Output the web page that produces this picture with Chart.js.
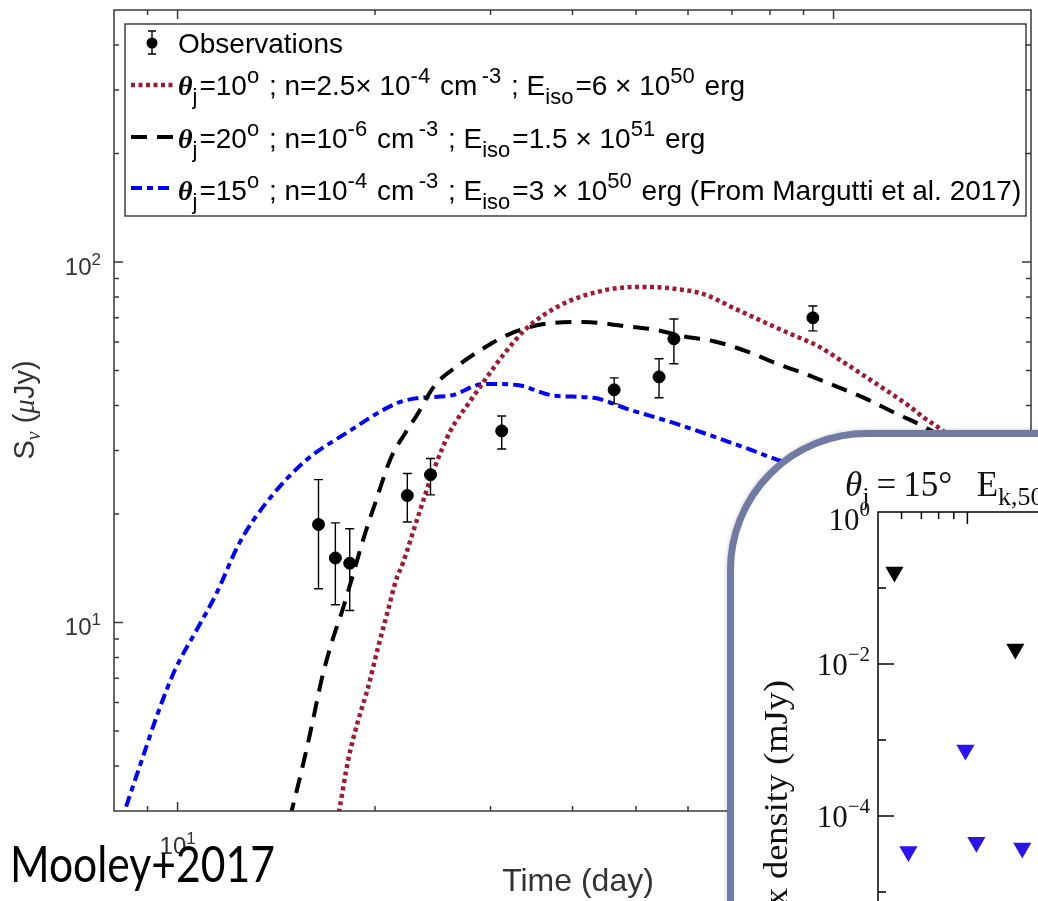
<!DOCTYPE html>
<html>
<head>
<meta charset="utf-8">
<script src="https://cdn.jsdelivr.net/npm/chart.js@4.4.0/dist/chart.umd.min.js"></script>
<style>
  html, body { margin: 0; padding: 0; background: #fff; overflow: hidden; width: 1038px; height: 901px; }
  #wrap { position: relative; width: 1038px; height: 901px; }
  #main { position: absolute; left: 0; top: 0; display: block; }
  #insetBox {
    position: absolute; left: 727px; top: 430px; width: 480px; height: 640px;
    border: 7px solid #707aa2; border-radius: 140px; background: #fff; overflow: hidden;
    box-shadow: 0 0 4px rgba(0, 0, 0, 0.25);
  }
  #inset { display: block; }
</style>
</head>
<body>
<div id="wrap">
  <canvas id="main" width="1038" height="901"></canvas>
  <div id="insetBox"><canvas id="inset" width="480" height="640"></canvas></div>
</div>
<script>
// data ===================================================================//

// observations (day, flux in microJy, error bar ends)
const obsDay  = [16.4, 17.4, 18.3, 22.4, 24.3, 31.2, 46.3, 54.2, 57.1, 93.0];
const obsFlux = [18.7, 15.1, 14.6, 22.5, 25.7, 34.0, 44.2, 48.0, 61.2, 70.0];
const obsLow  = [12.4, 11.2, 10.8, 19.0, 22.6, 30.3, 40.4, 42.0, 52.2, 64.4];
const obsHigh = [24.9, 18.9, 18.2, 25.9, 28.5, 37.4, 47.7, 53.9, 69.5, 75.5];

// theta_j = 10 deg model (red dotted)
const redDay  = [17.3, 17.64, 18.2, 18.85, 19.52, 20.21, 20.93, 21.52, 22.05, 23.23, 24.65, 26.06, 27.95, 29.35, 31.46, 33.73, 36.15, 39.59, 43.05, 47.1, 52.3, 57.5, 63.2, 70.9, 79.5, 87.3, 94.6, 102.8, 112.6, 123.7, 130.3, 137.3, 146.2, 160.6];
const redFlux = [2.46, 3.01, 4.15, 5.35, 6.61, 8.52, 10.8, 13.07, 14.6, 19.54, 26.88, 34.0, 41.2, 46.8, 55.6, 64.4, 71.3, 78.0, 82.1, 84.7, 85.3, 84.2, 81.6, 74.1, 67.3, 62.4, 58.5, 53.2, 47.7, 42.6, 39.9, 37.0, 34.2, 29.0];

// theta_j = 20 deg model (black dashed)
const blackDay  = [14.5, 14.93, 15.46, 16.0, 16.57, 17.16, 17.77, 18.4, 19.31, 20.0, 21.15, 22.21, 23.23, 24.65, 26.71, 29.35, 32.13, 36.15, 41.57, 47.78, 53.6, 59.5, 65.4, 73.4, 81.4, 90.4, 100.3, 112.2, 123.7, 138.3, 157.8];
const blackFlux = [2.44, 3.01, 3.89, 5.12, 6.91, 8.75, 10.59, 13.07, 17.64, 21.37, 28.65, 33.4, 37.9, 45.4, 51.5, 57.8, 63.2, 67.3, 68.2, 66.5, 64.8, 62.0, 60.4, 56.7, 52.5, 48.96, 45.4, 41.7, 38.2, 34.7, 29.96];

// theta_j = 15 deg model, Margutti et al. (blue dash-dot)
const blueDay  = [8.1, 8.31, 8.85, 9.33, 9.9, 10.68, 11.46, 12.41, 13.63, 15.67, 18.02, 21.68, 23.48, 26.06, 29.35, 32.9, 37.45, 43.05, 48.3, 57.5, 75.4, 80.6, 104];
const blueFlux = [2.62, 3.01, 4.23, 5.6, 7.36, 9.5, 12.03, 16.55, 21.4, 28.1, 33.4, 40.7, 42.0, 42.6, 45.9, 45.6, 42.6, 42.0, 39.2, 35.6, 29.96, 28.6, 24.7];

// axis ticks
const xMajor = [10, 100];
const xMinor = [9, 20, 30, 40, 50, 60, 70, 80, 90];
const yMajor = [10, 100];
const yMinor = [4, 5, 6, 7, 8, 9, 20, 30, 40, 50, 60, 70, 80, 90, 200, 300, 400];
const xTickLabels = [[10, '10', '1']];
const yTickLabels = [[10, '10', '1'], [100, '10', '2']];

// inset: upper limits (triangles)
const insetBlackT = [0.568, 1.45];
const insetBlackF = [0.1625, 0.0157];
const insetBlueT  = [0.985, 0.633, 1.072, 1.53];
const insetBlueF  = [7.4e-4, 3.4e-5, 4.5e-5, 3.8e-5];
const insetYMajor = [1, 1e-2, 1e-4, 1e-6];
const insetYMinor = [1e-1, 1e-3, 1e-5];
const insetXMajor = [1];
const insetXMinor = [0.6, 0.7, 0.8, 0.9, 2, 3, 4];
const insetYLabels = [[1, '10', '0'], [1e-2, '10', '\u22122'], [1e-4, '10', '\u22124'], [1e-6, '10', '\u22126']];

// legend rows: [text, kind]
const legendRows = [
    [['\u03b8', 'th'], ['j', 'sub'], ['=10', ''], ['o', 'sup'], [' ; n=2.5\u00d7 10', ''], ['-4', 'sup'], [' cm', ''], ['\u2009-3', 'sup'], [' ; E', ''], ['iso', 'sub'], ['=6 \u00d7 10', ''], ['50', 'sup'], [' erg', '']],
    [['\u03b8', 'th'], ['j', 'sub'], ['=20', ''], ['o', 'sup'], [' ; n=10', ''], ['-6', 'sup'], [' cm', ''], ['\u2009-3', 'sup'], [' ; E', ''], ['iso', 'sub'], ['=1.5 \u00d7 10', ''], ['51', 'sup'], [' erg', '']],
    [['\u03b8', 'th'], ['j', 'sub'], ['=15', ''], ['o', 'sup'], [' ; n=10', ''], ['-4', 'sup'], [' cm', ''], ['\u2009-3', 'sup'], [' ; E', ''], ['iso', 'sub'], ['=3 \u00d7 10', ''], ['50', 'sup'], [' erg (From Margutti et al. 2017)', '']]
];

// helpers ================================================================//

const pts = (xs, ys) => xs.map((v, i) => ({ x: v, y: ys[i] }));

function partFont(k, base, small, fam) {
    if (k === 'th') return 'italic bold ' + base + 'px "Liberation Serif"';
    if (k === 'it') return 'italic ' + base + 'px ' + fam;
    if (k === 'sup' || k === 'sub') return small + 'px ' + fam;
    return base + 'px ' + fam;
}

function richWidth(ctx, parts, base, small, fam, gap) {
    let w = 0;
    for (const [t, k] of parts) {
        ctx.font = partFont(k, base, small, fam);
        w += ctx.measureText(t).width;
        if (gap && (k === 'sup' || k === 'sub')) w += gap;
    }
    return w;
}

function drawRich(ctx, x, y, parts, base, small, fam, supUp, subDown, gap) {
    for (const [t, k] of parts) {
        ctx.font = partFont(k, base, small, fam);
        let dy = 0;
        if (k === 'sup') dy = -supUp;
        if (k === 'sub') dy = subDown;
        ctx.fillText(t, x, y + dy);
        x += ctx.measureText(t).width;
        if (gap && (k === 'sup' || k === 'sub')) x += gap;
    }
    return x;
}

const SANS = '"Liberation Sans", Arial, sans-serif';
const SERIF = '"Liberation Serif", "Times New Roman", serif';

// main chart decorations =================================================//

const mainDecor = {
    id: 'mainDecor',
    afterDatasetsDraw(chart) {
        const { ctx, chartArea: a, scales: { x, y } } = chart;
        ctx.save();

        // error bars
        ctx.strokeStyle = '#000';
        ctx.lineWidth = 1.4;
        obsDay.forEach((d, i) => {
            const px = x.getPixelForValue(d);
            const lo = y.getPixelForValue(obsLow[i]);
            const hi = y.getPixelForValue(obsHigh[i]);
            ctx.beginPath();
            ctx.moveTo(px, lo); ctx.lineTo(px, hi);
            ctx.moveTo(px - 4.5, lo); ctx.lineTo(px + 4.5, lo);
            ctx.moveTo(px - 4.5, hi); ctx.lineTo(px + 4.5, hi);
            ctx.stroke();
        });

        // frame + inward ticks
        ctx.strokeStyle = '#3a3a3a';
        ctx.lineWidth = 1.5;
        ctx.strokeRect(a.left, a.top, a.right - a.left, a.bottom - a.top);
        ctx.beginPath();
        const xt = (v, len) => {
            const p = x.getPixelForValue(v);
            ctx.moveTo(p, a.bottom); ctx.lineTo(p, a.bottom - len);
            ctx.moveTo(p, a.top); ctx.lineTo(p, a.top + len);
        };
        const yt = (v, len) => {
            const p = y.getPixelForValue(v);
            ctx.moveTo(a.left, p); ctx.lineTo(a.left + len, p);
            ctx.moveTo(a.right, p); ctx.lineTo(a.right - len, p);
        };
        xMajor.forEach(v => xt(v, 9));
        xMinor.forEach(v => xt(v, 5));
        yMajor.forEach(v => yt(v, 9));
        yMinor.forEach(v => yt(v, 5));
        ctx.stroke();

        // tick labels
        ctx.fillStyle = '#333';
        ctx.textBaseline = 'alphabetic';
        ctx.textAlign = 'left';
        yTickLabels.forEach(([v, b, e]) => {
            const p = y.getPixelForValue(v);
            const parts = [[b, ''], [e, 'sup']];
            const w = richWidth(ctx, parts, 24, 17, SANS);
            drawRich(ctx, 101 - w, p + 13, parts, 24, 17, SANS, 10, 0);
        });
        xTickLabels.forEach(([v, b, e]) => {
            const p = x.getPixelForValue(v);
            const parts = [[b, ''], [e, 'sup']];
            drawRich(ctx, p - 18, a.bottom + 43, parts, 24, 17, SANS, 10, 0);
        });

        // axis titles
        ctx.font = '32px ' + SANS;
        ctx.textAlign = 'center';
        ctx.fillText('Time (day)', 578, 891);

        ctx.save();
        ctx.translate(34, 410);
        ctx.rotate(-Math.PI / 2);
        ctx.textAlign = 'left';
        const yTitle = [['S', ''], ['\u03bd', 'itsub'], [' (', ''], ['\u03bc', 'it'], ['Jy)', '']];
        const tf = k => k === 'itsub' ? 'italic 20px ' + SERIF : (k === 'it' ? 'italic 29px ' + SERIF : '29px ' + SANS);
        let wT = 0;
        yTitle.forEach(([t, k]) => { ctx.font = tf(k); wT += ctx.measureText(t).width; });
        let cx = -wT / 2;
        yTitle.forEach(([t, k]) => {
            ctx.font = tf(k);
            ctx.fillText(t, cx, k === 'itsub' ? 6 : 0);
            cx += ctx.measureText(t).width;
        });
        ctx.restore();

        // legend box
        ctx.fillStyle = '#fff';
        ctx.fillRect(125, 24, 901, 192);
        ctx.strokeStyle = '#222';
        ctx.lineWidth = 1.3;
        ctx.strokeRect(125, 24, 901, 192);

        // legend: observations marker
        ctx.strokeStyle = '#000';
        ctx.lineWidth = 1.4;
        ctx.beginPath();
        ctx.moveTo(152, 31); ctx.lineTo(152, 54);
        ctx.moveTo(148, 31); ctx.lineTo(156, 31);
        ctx.moveTo(148, 54); ctx.lineTo(156, 54);
        ctx.stroke();
        ctx.fillStyle = '#000';
        ctx.beginPath();
        ctx.arc(152, 43, 5.5, 0, Math.PI * 2);
        ctx.fill();
        ctx.textAlign = 'left';
        ctx.font = '28px ' + SANS;
        ctx.fillText('Observations', 178, 53);

        // legend: line samples
        const ds = chart.data.datasets;
        const sampleY = [85, 137, 188];
        const rowBase = [95, 148, 200];
        [1, 2, 3].forEach((di, r) => {
            ctx.save();
            ctx.strokeStyle = ds[di].borderColor;
            ctx.lineWidth = ds[di].borderWidth;
            ctx.setLineDash(ds[di].borderDash);
            ctx.beginPath();
            ctx.moveTo(131, sampleY[r]); ctx.lineTo(173, sampleY[r]);
            ctx.stroke();
            ctx.restore();
            ctx.fillStyle = '#000';
            drawRich(ctx, 178, rowBase[r], legendRows[r], 28, 22, SANS, 12, 9, 2);
        });

        // annotation
        ctx.fillStyle = '#000';
        ctx.font = '50px Lato, "Open Sans", sans-serif';
        const mw = ctx.measureText('Mooley+2017').width;
        ctx.save();
        ctx.translate(10, 882);
        ctx.scale(265 / mw, 1);
        ctx.fillText('Mooley+2017', 0, 0);
        ctx.restore();

        ctx.restore();
    }
};

// main chart =============================================================//

const mainCanvas = document.getElementById('main');

const mainConfig = {
    type: 'scatter',
    data: {
        datasets: [{
            label: 'Observations',
            data: pts(obsDay, obsFlux),
            pointRadius: 6,
            pointBackgroundColor: '#000',
            pointBorderColor: '#000',
            showLine: false,
            order: 0
        }, {
            label: 'theta_j=10',
            data: pts(redDay, redFlux),
            showLine: true,
            borderColor: '#9e1b32',
            borderWidth: 4.5,
            borderDash: [4, 3.5],
            borderCapStyle: 'butt',
            pointRadius: 0,
            cubicInterpolationMode: 'monotone',
            clip: 0,
            order: 1
        }, {
            label: 'theta_j=20',
            data: pts(blackDay, blackFlux),
            showLine: true,
            borderColor: '#000',
            borderWidth: 4,
            borderDash: [16, 10],
            borderCapStyle: 'butt',
            pointRadius: 0,
            cubicInterpolationMode: 'monotone',
            clip: 0,
            order: 2
        }, {
            label: 'theta_j=15',
            data: pts(blueDay, blueFlux),
            showLine: true,
            borderColor: '#0000ff',
            borderWidth: 4,
            borderDash: [11, 5, 6, 5],
            borderCapStyle: 'butt',
            pointRadius: 0,
            cubicInterpolationMode: 'monotone',
            clip: 0,
            order: 3
        }]
    },
    options: {
        responsive: false,
        animation: false,
        devicePixelRatio: 1,
        layout: { padding: { left: 114, top: 10, right: 1, bottom: 90 } },
        plugins: { legend: { display: false }, tooltip: { enabled: false } },
        scales: {
            x: { type: 'logarithmic', min: 8, max: 200, display: false },
            y: { type: 'logarithmic', min: 3, max: 500, display: false }
        }
    },
    plugins: [mainDecor]
};

const mainChart = new Chart(mainCanvas, mainConfig);

// inset chart ============================================================//

const insetDecor = {
    id: 'insetDecor',
    afterDatasetsDraw(chart) {
        const { ctx, chartArea: a, scales: { x, y } } = chart;
        ctx.save();
        ctx.strokeStyle = '#000';
        ctx.lineWidth = 1.5;
        ctx.beginPath();
        ctx.moveTo(a.left, a.bottom); ctx.lineTo(a.left, a.top); ctx.lineTo(a.right, a.top);
        insetYMajor.forEach(v => { const p = y.getPixelForValue(v); ctx.moveTo(a.left, p); ctx.lineTo(a.left + 16, p); });
        insetYMinor.forEach(v => { const p = y.getPixelForValue(v); ctx.moveTo(a.left, p); ctx.lineTo(a.left + 8, p); });
        insetXMajor.forEach(v => { const p = x.getPixelForValue(v); ctx.moveTo(p, a.top); ctx.lineTo(p, a.top + 12); });
        insetXMinor.forEach(v => { const p = x.getPixelForValue(v); ctx.moveTo(p, a.top); ctx.lineTo(p, a.top + 7); });
        ctx.stroke();

        ctx.fillStyle = '#111';
        ctx.textAlign = 'left';
        insetYLabels.forEach(([v, b, e], i) => {
            const p = y.getPixelForValue(v);
            const parts = [[b, ''], [e, 'sup']];
            const w = richWidth(ctx, parts, 31, 21, SERIF);
            drawRich(ctx, 136 - w, p + (i === 0 ? 18 : 11), parts, 31, 21, SERIF, 14, 0);
        });

        // title
        const title = [['\u03b8', 'it'], ['j', 'sub'], ['\u2009=\u200915\u00b0\u2002\u2009E', ''], ['k,50', 'sub']];
        drawRich(ctx, 111, 59, title, 35, 26, SERIF, 0, 9);

        // y title
        ctx.save();
        ctx.translate(53, 243);
        ctx.rotate(-Math.PI / 2);
        ctx.scale(1.07, 1);
        ctx.textAlign = 'right';
        ctx.font = '34px ' + SERIF;
        ctx.fillText('Flux density (mJy)', 0, 0);
        ctx.restore();
        ctx.restore();
    }
};

const insetCanvas = document.getElementById('inset');

const insetConfig = {
    type: 'scatter',
    data: {
        datasets: [{
            label: 'black limits',
            data: pts(insetBlackT, insetBlackF),
            pointStyle: 'triangle',
            rotation: 180,
            pointRadius: 10.5,
            backgroundColor: '#000',
            borderColor: '#000',
            borderWidth: 0
        }, {
            label: 'blue limits',
            data: pts(insetBlueT, insetBlueF),
            pointStyle: 'triangle',
            rotation: 180,
            pointRadius: 10.5,
            backgroundColor: '#2a14eb',
            borderColor: '#2a14eb',
            borderWidth: 0
        }]
    },
    options: {
        responsive: false,
        animation: false,
        devicePixelRatio: 1,
        layout: { padding: { left: 144, top: 75, right: 39, bottom: 109 } },
        plugins: { legend: { display: false }, tooltip: { enabled: false } },
        scales: {
            x: { type: 'logarithmic', min: 0.5, max: 5, display: false },
            y: { type: 'logarithmic', min: 1e-6, max: 1, display: false }
        }
    },
    plugins: [insetDecor]
};

const insetChart = new Chart(insetCanvas, insetConfig);
</script>
</body>
</html>
